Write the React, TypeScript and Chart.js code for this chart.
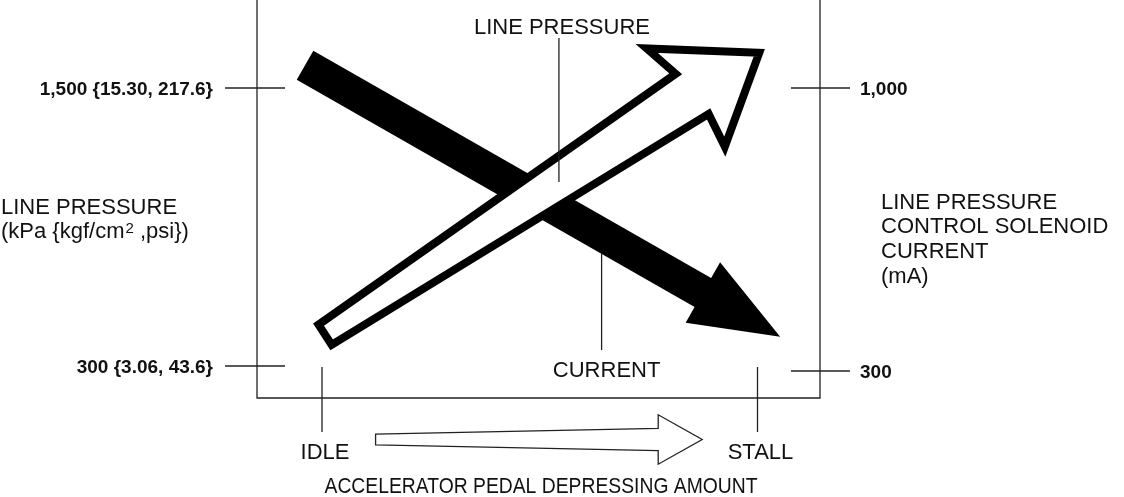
import React, { useEffect, useRef } from "react";
import { Chart, registerables } from "chart.js";

Chart.register(...registerables);

// ---- data ----
const pedalCategories = ["IDLE", "STALL"];
const pedalPositions = [0, 100]; // % accelerator pedal
const pressureTickValues = [1500, 300]; // kPa
const pressureTickLabels = ["1,500 {15.30, 217.6}", "300 {3.06, 43.6}"];
const currentTickValues = [1000, 300]; // mA
const currentTickLabels = ["1,000", "300"];
const seriesNames = ["LINE PRESSURE", "CURRENT"];
const linePressureX = [0.7, 100.4];
const linePressureY = [435, 1652];
const currentX = [-3.9, 105.2];
const currentY = [1056, 385];
const pedalArrowX = [12.3, 87.3];
const leaderX = [54.4, 64.2];
const leftTitle = ["LINE PRESSURE", "(kPa {kgf/cm", "2", " ,psi})"];
const rightTitle = ["LINE PRESSURE", "CONTROL SOLENOID", "CURRENT", "(mA)"];
const bottomTitle = "ACCELERATOR PEDAL DEPRESSING AMOUNT";

const INK = "#111";
const LINE = "#222";
const FONT = '"Liberation Sans", Arial, Helvetica, sans-serif';

// per side: [+n side, -n side]
type Dims = { w0: number; w1: [number, number]; joint: [number, number]; wing: [number, number]; hw: [number, number] };

function arrowPath(ctx: CanvasRenderingContext2D, sx: number, sy: number, tx: number, ty: number, d: Dims) {
  const dx = tx - sx;
  const dy = ty - sy;
  const L = Math.hypot(dx, dy);
  const ux = dx / L;
  const uy = dy / L;
  const nx = -uy;
  const ny = ux;
  const P = (a: number, w: number): [number, number] => [sx + ux * a + nx * w, sy + uy * a + ny * w];
  const pts = [
    P(0, d.w0),
    P(L - d.joint[0], d.w1[0]),
    P(L - d.wing[0], d.hw[0]),
    P(L, 0),
    P(L - d.wing[1], -d.hw[1]),
    P(L - d.joint[1], -d.w1[1]),
    P(0, -d.w0),
  ];
  ctx.beginPath();
  ctx.moveTo(pts[0][0], pts[0][1]);
  for (let i = 1; i < pts.length; i++) ctx.lineTo(pts[i][0], pts[i][1]);
  ctx.closePath();
}

const diagramPlugin = {
  id: "diagram",
  afterDatasetsDraw(chart: any) {
    const ctx: CanvasRenderingContext2D = chart.ctx;
    const { left, right, top, bottom } = chart.chartArea;
    const xs = chart.scales.x;
    const ys = chart.scales.y;
    const y2 = chart.scales.y2;
    ctx.save();
    ctx.lineCap = "butt";

    // frame
    ctx.strokeStyle = LINE;
    ctx.lineWidth = 1.3;
    ctx.beginPath();
    ctx.moveTo(left, top);
    ctx.lineTo(left, bottom);
    ctx.lineTo(right, bottom);
    ctx.lineTo(right, top);
    ctx.stroke();

    // left ticks
    ctx.font = `bold 19px ${FONT}`;
    ctx.fillStyle = INK;
    pressureTickValues.forEach((v, i) => {
      const y = ys.getPixelForValue(v);
      ctx.beginPath();
      ctx.moveTo(left - 32, y);
      ctx.lineTo(left + 28, y);
      ctx.stroke();
      ctx.textAlign = "right";
      ctx.textBaseline = "alphabetic";
      ctx.fillText(pressureTickLabels[i], left - 44, y + 7);
    });
    // right ticks
    currentTickValues.forEach((v, i) => {
      const y = y2.getPixelForValue(v);
      ctx.beginPath();
      ctx.moveTo(right - 29, y);
      ctx.lineTo(right + 30, y);
      ctx.stroke();
      ctx.textAlign = "left";
      ctx.fillText(currentTickLabels[i], right + 40, y + 7);
    });
    // pedal ticks
    ctx.font = `22px ${FONT}`;
    pedalPositions.forEach((p, i) => {
      const x = xs.getPixelForValue(p);
      ctx.beginPath();
      ctx.moveTo(x, bottom - 31);
      ctx.lineTo(x, bottom + 34);
      ctx.stroke();
      ctx.textAlign = "center";
      ctx.fillText(pedalCategories[i], x + 3, bottom + 61);
    });

    // CURRENT arrow (solid black)
    const m1 = chart.getDatasetMeta(1).data;
    ctx.fillStyle = "#000";
    arrowPath(ctx, m1[0].x, m1[0].y, m1[1].x, m1[1].y, {
      w0: 16.7,
      w1: [16.7, 16.7],
      joint: [89, 89],
      wing: [89, 89],
      hw: [34.7, 34.7],
    });
    ctx.fill();

    // LINE PRESSURE arrow (outlined)
    const m0 = chart.getDatasetMeta(0).data;
    ctx.fillStyle = "#fff";
    ctx.strokeStyle = "#000";
    ctx.lineWidth = 8;
    ctx.lineJoin = "miter";
    ctx.miterLimit = 10;
    arrowPath(ctx, m0[0].x, m0[0].y, m0[1].x, m0[1].y, {
      w0: 12,
      w1: [23.7, 27.9],
      joint: [75.7, 81.5],
      wing: [80, 92],
      hw: [60, 65],
    });
    ctx.fill();
    ctx.stroke();

    // leaders + series labels
    ctx.strokeStyle = LINE;
    ctx.lineWidth = 1.3;
    ctx.fillStyle = INK;
    ctx.font = `22px ${FONT}`;
    ctx.textAlign = "center";
    const lx0 = xs.getPixelForValue(leaderX[0]);
    ctx.beginPath();
    ctx.moveTo(lx0, 38);
    ctx.lineTo(lx0, 182);
    ctx.stroke();
    ctx.fillText(seriesNames[0], lx0 + 3, 34);
    const lx1 = xs.getPixelForValue(leaderX[1]);
    ctx.beginPath();
    ctx.moveTo(lx1, 253);
    ctx.lineTo(lx1, bottom - 48);
    ctx.stroke();
    ctx.fillText(seriesNames[1], lx1 + 5, bottom - 21);

    // pedal direction arrow
    const yb = bottom + 41.5;
    ctx.fillStyle = "#fff";
    ctx.strokeStyle = LINE;
    ctx.lineWidth = 1.3;
    arrowPath(ctx, xs.getPixelForValue(pedalArrowX[0]), yb, xs.getPixelForValue(pedalArrowX[1]), yb, {
      w0: 5.3,
      w1: [11.2, 11.2],
      joint: [44, 44],
      wing: [44, 44],
      hw: [24.7, 24.7],
    });
    ctx.fill();
    ctx.stroke();

    // axis titles
    ctx.fillStyle = INK;
    ctx.textAlign = "left";
    ctx.font = `22px ${FONT}`;
    ctx.fillText(leftTitle[0], 1, 214);
    ctx.fillText(leftTitle[1], 1, 238);
    const w = ctx.measureText(leftTitle[1]).width;
    ctx.font = `15px ${FONT}`;
    ctx.fillText(leftTitle[2], 2 + w, 233);
    const w2 = ctx.measureText(leftTitle[2]).width;
    ctx.font = `22px ${FONT}`;
    ctx.fillText(leftTitle[3], 2 + w + w2, 238);

    rightTitle.forEach((t, i) => {
      ctx.fillText(t, right + 61, 208.5 + i * 24.7);
    });

    ctx.textAlign = "center";
    ctx.fillText(bottomTitle, 541, bottom + 95, 433);
    ctx.restore();
  },
};

export default function App() {
  const canvasRef = useRef<HTMLCanvasElement | null>(null);

  useEffect(() => {
    const canvas = canvasRef.current;
    if (!canvas) return;
    const chart = new Chart(canvas, {
      type: "scatter",
      data: {
        datasets: [
          {
            label: seriesNames[0],
            data: linePressureX.map((x, i) => ({ x, y: linePressureY[i] })),
            yAxisID: "y",
            pointRadius: 0,
            showLine: false,
          },
          {
            label: seriesNames[1],
            data: currentX.map((x, i) => ({ x, y: currentY[i] })),
            yAxisID: "y2",
            pointRadius: 0,
            showLine: false,
          },
        ],
      },
      options: {
        responsive: false,
        animation: false,
        events: [],
        layout: { padding: { left: 257, right: 304, top: 0, bottom: 99 } },
        scales: {
          x: { type: "linear", min: -14.93, max: 114.35, display: false },
          y: { type: "linear", min: 161.9, max: 1879.9, display: false },
          y2: { type: "linear", min: 233.2, max: 1217.7, display: false, position: "right" },
        },
        plugins: {
          legend: { display: false },
          tooltip: { enabled: false },
          title: { display: false },
        },
      },
      plugins: [diagramPlugin],
    });
    return () => chart.destroy();
  }, []);

  return (
    <div style={{ position: "fixed", left: 0, top: 0, width: 1124, height: 497, background: "#fff" }}>
      <canvas ref={canvasRef} width={1124} height={497} style={{ display: "block" }} />
    </div>
  );
}
